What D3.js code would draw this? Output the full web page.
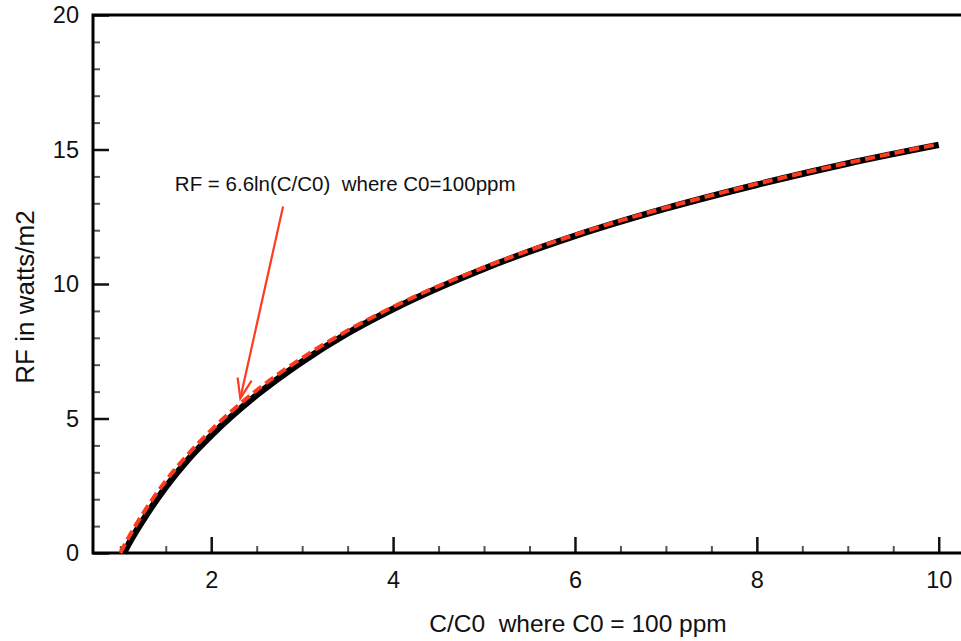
<!DOCTYPE html>
<html>
<head>
<meta charset="utf-8">
<script src="https://cdn.jsdelivr.net/npm/d3@7"></script>
<style>
  html, body { margin: 0; padding: 0; background: #fff; }
  svg { display: block; }
  text { font-family: "Liberation Sans", Arial, Helvetica, sans-serif; fill: #111; white-space: pre; }
</style>
</head>
<body>
<svg id="chart" width="961" height="641"></svg>
<script>
// ---- data ----
const blackX = [1.04, 1.1, 1.25, 1.5, 1.75, 2, 2.5, 3, 3.5, 4, 5, 6, 7, 8, 9, 10];
const blackY = [0, 0.38, 1.22, 2.45, 3.49, 4.37, 5.87, 7.11, 8.17, 9.07, 10.57, 11.79, 12.81, 13.69, 14.48, 15.17];
const redX = [1, 1.1, 1.25, 1.5, 1.75, 2, 2.5, 3, 3.5, 4, 5, 6, 7, 8, 9, 10];
const redY = [0, 0.63, 1.47, 2.68, 3.69, 4.57, 6.05, 7.25, 8.27, 9.15, 10.62, 11.83, 12.84, 13.72, 14.50, 15.20];
const xMajorTicks = [2, 4, 6, 8, 10];
const xMinorTicks = [1, 1.5, 2.5, 3, 3.5, 4.5, 5, 5.5, 6.5, 7, 7.5, 8.5, 9, 9.5];
const yMajorTicks = [0, 5, 10, 15, 20];
const yMinorTicks = [1, 2, 3, 4, 6, 7, 8, 9, 11, 12, 13, 14, 16, 17, 18, 19];
const xLabel = "C/C0  where C0 = 100 ppm";
const yLabel = "RF in watts/m2";
const noteText = "RF = 6.6ln(C/C0)  where C0=100ppm";
const notePos = [1.60, 13.45];   // text anchor (data units)
const arrowFrom = [2.79, 12.88];
const arrowTo = [2.32, 5.75];

// ---- layout ----
const svg = d3.select("#chart");
const mLeft = 93, mTop = 15, mBottom = 553, mRight = 961;
const x = d3.scaleLinear().domain([0.7, 10.245]).range([mLeft, mRight]);
const y = d3.scaleLinear().domain([0, 20]).range([mBottom, mTop]);
const red = "#ff3b1e";

// ticks (inward)
const gx = svg.append("g").attr("transform", `translate(0,${mBottom})`);
gx.call(d3.axisBottom(x).tickValues(xMinorTicks).tickSize(-7).tickFormat(""))
  .call(g => g.select(".domain").remove())
  .call(g => g.selectAll("line").attr("stroke", "#555").attr("stroke-width", 2));
const gx2 = svg.append("g").attr("transform", `translate(0,${mBottom})`);
gx2.call(d3.axisBottom(x).tickValues(xMajorTicks).tickSize(-16).tickPadding(18).tickFormat(d3.format("d")))
  .call(g => g.select(".domain").remove())
  .call(g => g.selectAll("line").attr("stroke", "#111").attr("stroke-width", 2.5))
  .call(g => g.selectAll("text").attr("font-size", 23.5).attr("fill", "#111"));

const gy = svg.append("g").attr("transform", `translate(${mLeft},0)`);
gy.call(d3.axisLeft(y).tickValues(yMinorTicks).tickSize(-7).tickFormat(""))
  .call(g => g.select(".domain").remove())
  .call(g => g.selectAll("line").attr("stroke", "#555").attr("stroke-width", 2));
const gy2 = svg.append("g").attr("transform", `translate(${mLeft},0)`);
gy2.call(d3.axisLeft(y).tickValues(yMajorTicks).tickSize(-16).tickPadding(14).tickFormat(d3.format("d")))
  .call(g => g.select(".domain").remove())
  .call(g => g.selectAll("line").attr("stroke", "#111").attr("stroke-width", 2.5))
  .call(g => g.selectAll("text").attr("font-size", 23.5).attr("fill", "#111"));

// frame
svg.append("path")
  .attr("d", `M${mRight + 2},${mTop}H${mLeft}V${mBottom}H${mRight + 2}`)
  .attr("fill", "none").attr("stroke", "#000").attr("stroke-width", 3);

// curves
const line = d3.line().x(d => x(d[0])).y(d => y(d[1])).curve(d3.curveMonotoneX);
svg.append("path")
  .datum(d3.zip(blackX, blackY))
  .attr("d", line).attr("fill", "none").attr("stroke", "#000").attr("stroke-width", 6.5);
svg.append("path")
  .datum(d3.zip(redX, redY))
  .attr("d", line).attr("fill", "none").attr("stroke", red).attr("stroke-width", 4)
  .attr("stroke-dasharray", "10,5");

// annotation arrow
const ax0 = x(arrowFrom[0]), ay0 = y(arrowFrom[1]);
const ax1 = x(arrowTo[0]), ay1 = y(arrowTo[1]);
svg.append("line").attr("x1", ax0).attr("y1", ay0).attr("x2", ax1).attr("y2", ay1)
  .attr("stroke", red).attr("stroke-width", 2.2);
const ang = Math.atan2(ay0 - ay1, ax0 - ax1);
const headLen = 21, headAng = 20 * Math.PI / 180;
const h1 = [ax1 + headLen * Math.cos(ang + headAng), ay1 + headLen * Math.sin(ang + headAng)];
const h2 = [ax1 + headLen * Math.cos(ang - headAng), ay1 + headLen * Math.sin(ang - headAng)];
svg.append("path")
  .attr("d", `M${h1[0]},${h1[1]}L${ax1},${ay1}L${h2[0]},${h2[1]}`)
  .attr("fill", "none").attr("stroke", red).attr("stroke-width", 2.2);

svg.append("text")
  .attr("x", x(notePos[0])).attr("y", y(notePos[1]))
  .attr("font-size", 20.5)
  .text(noteText);

// axis labels
svg.append("text")
  .attr("x", 578).attr("y", 632)
  .attr("text-anchor", "middle").attr("font-size", 24.5)
  .text(xLabel);
svg.append("text")
  .attr("transform", "translate(34,297) rotate(-90)")
  .attr("text-anchor", "middle").attr("font-size", 26)
  .text(yLabel);
</script>
</body>
</html>
